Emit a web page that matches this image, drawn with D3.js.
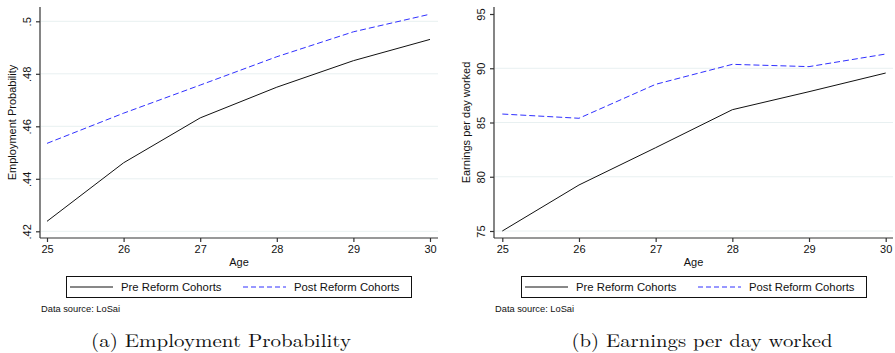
<!DOCTYPE html>
<html>
<head>
<meta charset="utf-8">
<script src="https://cdn.jsdelivr.net/npm/d3@7"></script>
<style>
  body { margin: 0; background: #fff; }
  svg { display: block; }
</style>
</head>
<body>
<svg id="chart" width="895" height="353"></svg>
<script>
// data
let ages = [25, 26, 27, 28, 29, 30]
let empPre = [0.4238, 0.4461, 0.4632, 0.4749, 0.4850, 0.4931]
let empPost = [0.4535, 0.4650, 0.4757, 0.4865, 0.4960, 0.5027]
let earnPre = [75.0, 79.24, 82.68, 86.18, 87.84, 89.56]
let earnPost = [85.78, 85.39, 88.52, 90.36, 90.15, 91.31]
let empTicks = [0.42, 0.44, 0.46, 0.48, 0.5]
let empTickLabels = ['.42', '.44', '.46', '.48', '.5']
let earnTicks = [75, 80, 85, 90, 95]
let earnTickLabels = ['75', '80', '85', '90', '95']
let seriesNames = ['Pre Reform Cohorts', 'Post Reform Cohorts']

let svg = d3.select('#chart')
let font = 'Liberation Sans, Arial, Helvetica, sans-serif'
let axisColor = '#333'
let gridColor = '#e8f0f1'
let blue = '#3030ff'

function drawPanel (p) {
  let g = svg.append('g')
  let x = d3.scaleLinear().domain([25, 30]).range([p.x25, p.x30])
  let y = d3.scaleLinear().domain(p.yDomain).range(p.yRange)

  // gridlines
  g.append('g').selectAll('line')
    .data(p.ticks.filter(t => p.grid(t)))
    .enter().append('line')
    .attr('x1', p.left + 1).attr('x2', p.right)
    .attr('y1', d => y(d)).attr('y2', d => y(d))
    .attr('stroke', gridColor).attr('stroke-width', 1)

  // y axis
  let yAxis = d3.axisLeft(y).tickValues(p.ticks).tickSize(4).tickSizeOuter(0)
    .tickFormat((d, i) => p.tickLabels[i])
  let ay = g.append('g').attr('transform', 'translate(' + p.left + ',0)').call(yAxis)
  ay.select('.domain').attr('d', 'M0,' + p.top + 'V' + p.bottom)
  ay.selectAll('text')
    .attr('transform', 'rotate(-90)')
    .attr('x', 0).attr('y', -9)
    .attr('dy', 0)
    .attr('text-anchor', 'middle')
  styleAxis(ay)

  // x axis
  let xAxis = d3.axisBottom(x).tickValues(ages).tickSize(4).tickSizeOuter(0)
    .tickFormat(d3.format('d'))
  let ax = g.append('g').attr('transform', 'translate(0,' + p.bottom + ')').call(xAxis)
  ax.select('.domain').attr('d', 'M' + p.left + ',0H' + p.right)
  ax.selectAll('text').attr('y', 7).attr('dy', '0.71em')
  styleAxis(ax)

  // titles
  g.append('text')
    .attr('transform', 'translate(' + p.yTitleX + ',' + ((p.top + p.bottom) / 2) + ') rotate(-90)')
    .attr('text-anchor', 'middle')
    .attr('font-family', font).attr('font-size', '11px').attr('fill', '#111')
    .text(p.yTitle)
  g.append('text')
    .attr('x', (p.left + p.right) / 2).attr('y', 266)
    .attr('text-anchor', 'middle')
    .attr('font-family', font).attr('font-size', '11px').attr('fill', '#111')
    .text('Age')

  // lines
  let line = d3.line().x((d, i) => x(ages[i])).y(d => y(d))
  g.append('path').datum(p.pre).attr('d', line)
    .attr('fill', 'none').attr('stroke', '#111').attr('stroke-width', 1)
  g.append('path').datum(p.post).attr('d', line)
    .attr('fill', 'none').attr('stroke', blue).attr('stroke-width', 1)
    .attr('stroke-dasharray', '6,3')

  // legend
  let lg = g.append('g').attr('transform', 'translate(' + p.legX + ',276)')
  lg.append('rect').attr('x', 0.5).attr('y', 0.5).attr('width', p.legW).attr('height', 21)
    .attr('fill', '#fff').attr('stroke', '#111').attr('stroke-width', 1)
  let items = [{ name: seriesNames[0], x: 4, color: '#111', dash: null },
    { name: seriesNames[1], x: 177, color: blue, dash: '5,3' }]
  items.forEach(it => {
    lg.append('line').attr('x1', it.x).attr('x2', it.x + 43).attr('y1', 11).attr('y2', 11)
      .attr('stroke', it.color).attr('stroke-width', 1)
      .attr('stroke-dasharray', it.dash)
    lg.append('text').attr('x', it.x + 51).attr('y', 15)
      .attr('font-family', font).attr('font-size', '11.3px').attr('fill', '#111')
      .text(it.name)
  })

  g.append('text').attr('x', p.left + 1).attr('y', 311.5)
    .attr('font-family', font).attr('font-size', '9.3px').attr('fill', '#111')
    .text('Data source: LoSai')

  g.append('text').attr('x', p.capX).attr('y', 347)
    .attr('text-anchor', 'middle')
    .attr('font-family', 'Latin Modern Roman, CMU Serif, Liberation Serif, serif')
    .attr('font-size', '18.5px').attr('fill', '#111')
    .attr('textLength', p.capW).attr('lengthAdjust', 'spacingAndGlyphs')
    .text(p.caption)
}

function styleAxis (a) {
  a.select('.domain').attr('stroke', axisColor).attr('stroke-width', 1.2)
  a.selectAll('.tick line').attr('stroke', axisColor).attr('stroke-width', 1.2)
  a.selectAll('text').attr('font-family', font).attr('font-size', '11px').attr('fill', '#111')
}

drawPanel({
  left: 40, right: 438, top: 7, bottom: 238, x25: 47, x30: 430,
  yDomain: [0.42, 0.5], yRange: [231.3, 21.3],
  ticks: empTicks, tickLabels: empTickLabels, grid: t => true,
  yTitle: 'Employment Probability', yTitleX: 16,
  pre: empPre, post: empPost,
  legX: 66, legW: 345,
  caption: '(a) Employment Probability', capX: 221, capW: 260
})

drawPanel({
  left: 494, right: 893, top: 7, bottom: 238, x25: 502.3, x30: 885.7,
  yDomain: [75, 95], yRange: [231, 14],
  ticks: earnTicks, tickLabels: earnTickLabels, grid: t => t < 95,
  yTitle: 'Earnings per day worked', yTitleX: 470,
  pre: earnPre, post: earnPost,
  legX: 521, legW: 345,
  caption: '(b) Earnings per day worked', capX: 702, capW: 261
})
</script>
</body>
</html>
